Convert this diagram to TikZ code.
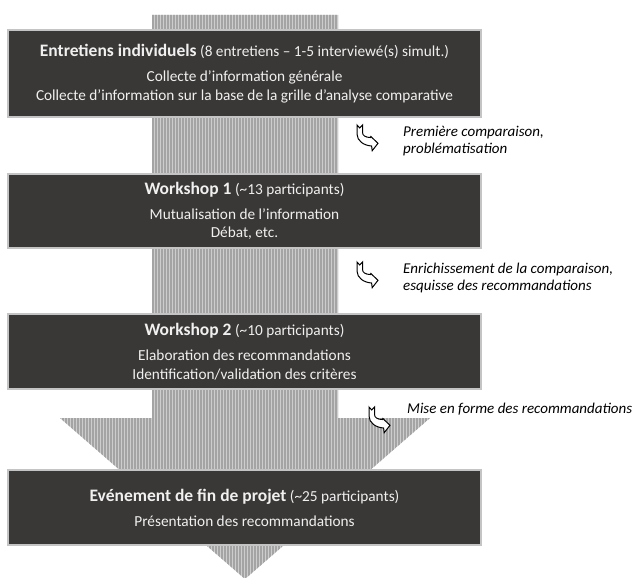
\documentclass[tikz,border=0pt]{standalone}
\usepackage{fontspec}
\setmainfont{Carlito}
\definecolor{boxfill}{HTML}{3A3836}
\definecolor{boxedge}{HTML}{C4C4C4}
\definecolor{shaftbg}{HTML}{CDCDCD}
\definecolor{shaftln}{HTML}{A4A4A4}
\definecolor{boxtext}{HTML}{F0F0F0}
\newcommand\stagetitle[1]{{\fontsize{17.5}{18.5}\selectfont\bfseries #1}}
\tikzset{
  bentarrow/.pic={
    \draw[draw=black, fill=white, line width=1pt, line join=miter]
      (0,0) -- (2.7,3) -- (5.5,0) -- (5.5,7.5)
      .. controls (5.5,10.5) and (8.5,12.5) .. (13.5,12.5)
      -- (13.8,11.5) -- (21,18.3) -- (15.2,25.7) -- (14.6,21)
      .. controls (7,20.5) and (0,16) .. (0,9) -- cycle;
  }
}
\begin{document}
\begin{tikzpicture}[x=1pt,y=-1pt,
  stagebox/.style={draw=boxedge, line width=1.6pt, fill=boxfill, text=boxtext,
    minimum width=473pt, align=center, inner sep=0pt,
    font=\fontsize{15.3}{18.5}\selectfont},
  sidenote/.style={anchor=north west, align=left, inner sep=0pt,
    font=\fontsize{15}{17.5}\selectfont\itshape}]
\useasboundingbox (0,0) rectangle (635,578);
\fill[white] (0,0) rectangle (635,578);
% big striped arrow
\begin{scope}
  \clip (152,15) -- (338,15) -- (338,418) -- (430,418) -- (245,579)
        -- (60,418) -- (152,418) -- cycle;
  \fill[shaftbg] (55,10) rectangle (435,582);
  \foreach \i in {0,...,125}
    \draw[shaftln, line width=1.2pt] (60+\i*3,10) -- (60+\i*3,582);
\end{scope}
% stage boxes
\node[stagebox, minimum height=87pt] (b1) at (244.5,73.5)
  {\stagetitle{Entretiens individuels} (8 entretiens – 1-5 interviewé(s) simult.)\\[6.5pt]
   Collecte d’information générale\\
   Collecte d’information sur la base de la grille d’analyse comparative};
\node[stagebox, minimum height=74pt] (b2) at (244.5,211)
  {\stagetitle{Workshop 1} (\textasciitilde 13 participants)\\[6.5pt]
   Mutualisation de l’information\\
   Débat, etc.};
\node[stagebox, minimum height=75pt] (b3) at (244.5,351.5)
  {\stagetitle{Workshop 2} (\textasciitilde 10 participants)\\[6.5pt]
   Elaboration des recommandations\\
   Identification/validation des critères};
\node[stagebox, minimum height=75pt] (b4) at (244.5,507.5)
  {\stagetitle{Evénement de fin de projet} (\textasciitilde 25 participants)\\[6.5pt]
   Présentation des recommandations};
% side notes
\pic at (357,125) {bentarrow};
\node[sidenote] (n1) at (403,125.5) {Première comparaison,\\problématisation};
\pic at (357,262) {bentarrow};
\node[sidenote] (n2) at (403,262.5) {Enrichissement de la comparaison,\\esquisse des recommandations};
\pic at (369,407) {bentarrow};
\node[sidenote] (n3) at (407,402.5) {Mise en forme des recommandations};
\end{tikzpicture}
\end{document}
